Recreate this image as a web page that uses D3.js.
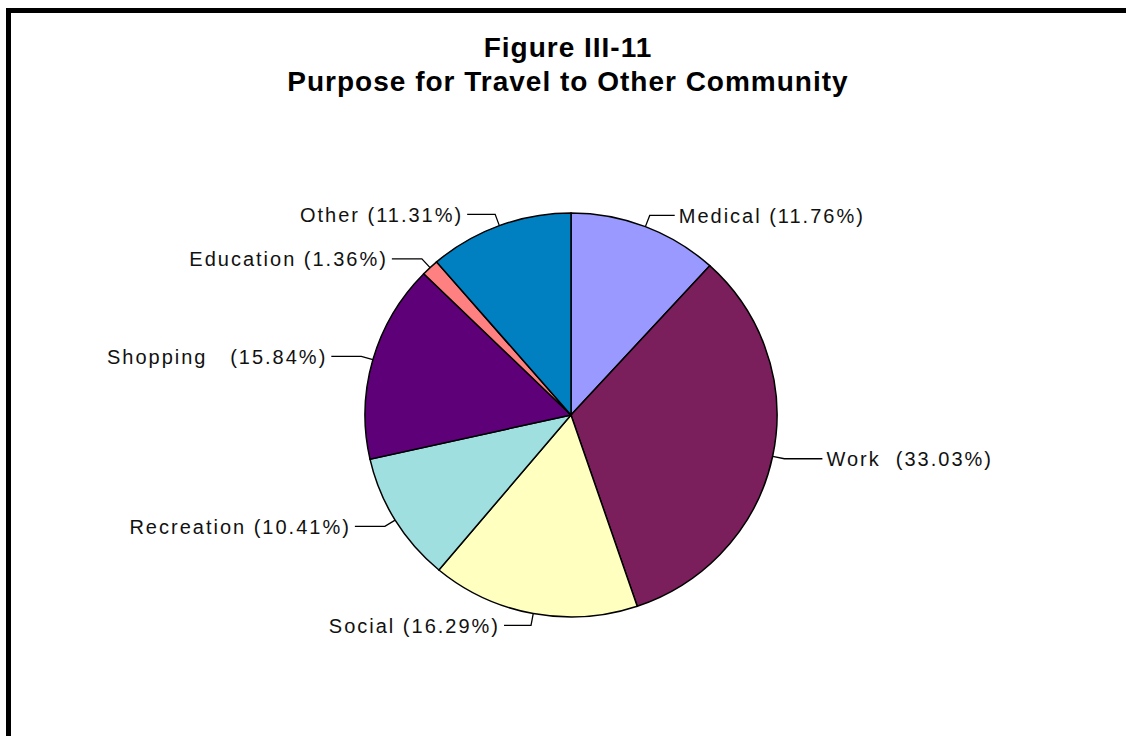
<!DOCTYPE html>
<html>
<head>
<meta charset="utf-8">
<script src="https://cdn.jsdelivr.net/npm/d3@7"></script>
<style>
  html, body { margin: 0; padding: 0; background: #fff; }
  svg { display: block; }
  text { font-family: "Liberation Sans", Arial, sans-serif; }
</style>
</head>
<body>
<svg id="chart" width="1126" height="736"></svg>
<script>
// Trip purposes, clockwise from 12 o'clock
const categories = ["Medical", "Work", "Social", "Recreation", "Shopping", "Education", "Other"];
const shares = [11.76, 33.03, 16.29, 10.41, 15.84, 1.36, 11.31];
const labelNames = ["Medical", "Work ", "Social", "Recreation", "Shopping  ", "Education", "Other"];
const colors = ["#9999ff", "#7b1f5c", "#ffffc0", "#a0dfe0", "#5e0078", "#ff8080", "#0080c1"];
const titleLines = ["Figure III-11", "Purpose for Travel to Other Community"];

// length of the horizontal run of each leader line
const leaderRun = { Medical: 25, Work: 38, Social: 27, Recreation: 30, Shopping: 30, Education: 30, Other: 28 };

const svg = d3.select("#chart");
const W = 1126, H = 736;

// frame
svg.append("rect")
  .attr("x", 8.5).attr("y", 10.5)
  .attr("width", W + 20).attr("height", H + 20)
  .attr("fill", "#fff").attr("stroke", "#000").attr("stroke-width", 5);

// title
svg.append("g").selectAll("text")
  .data(titleLines)
  .join("text")
  .attr("x", 568)
  .attr("y", (d, i) => 57 + i * 34)
  .attr("text-anchor", "middle")
  .attr("font-size", 28)
  .attr("font-weight", "bold")
  .attr("letter-spacing", "1px")
  .attr("fill", "#000")
  .text(d => d);

// pie
const cx = 571, cy = 415, rx = 206, ry = 202;
const data = categories.map((c, i) => ({ name: c, label: labelNames[i], value: shares[i], color: colors[i] }));
const pie = d3.pie().sort(null).value(d => d.value);
const arcs = pie(data);
const arc = d3.arc().innerRadius(0).outerRadius(rx);

const g = svg.append("g").attr("transform", `translate(${cx},${cy}) scale(1,${ry / rx})`);
g.selectAll("path")
  .data(arcs)
  .join("path")
  .attr("d", arc)
  .attr("fill", d => d.data.color)
  .attr("stroke", "#000")
  .attr("stroke-width", 1.5)
  .attr("vector-effect", "non-scaling-stroke");

// leader lines and labels
const radial = 12, gap = 4;
const labels = svg.append("g");
arcs.forEach(d => {
  const a = (d.startAngle + d.endAngle) / 2;
  const sx = Math.sin(a), sy = -Math.cos(a);
  const p0 = [cx + rx * sx, cy + ry * sy];
  const p1 = [cx + (rx + radial) * sx, cy + (ry + radial) * sy];
  const dir = sx >= 0 ? 1 : -1;
  const p2 = [p1[0] + dir * leaderRun[d.data.name], p1[1]];
  labels.append("polyline")
    .attr("points", [p0, p1, p2].map(p => p.join(",")).join(" "))
    .attr("fill", "none")
    .attr("stroke", "#000")
    .attr("stroke-width", 1.3);
  labels.append("text")
    .attr("x", p2[0] + dir * gap)
    .attr("y", p2[1])
    .attr("dy", "0.36em")
    .attr("text-anchor", dir > 0 ? "start" : "end")
    .attr("font-size", 20)
    .attr("letter-spacing", "2px")
    .attr("fill", "#111")
    .style("white-space", "pre")
    .text(`${d.data.label} (${d.data.value.toFixed(2)}%)`);
});
</script>
</body>
</html>
